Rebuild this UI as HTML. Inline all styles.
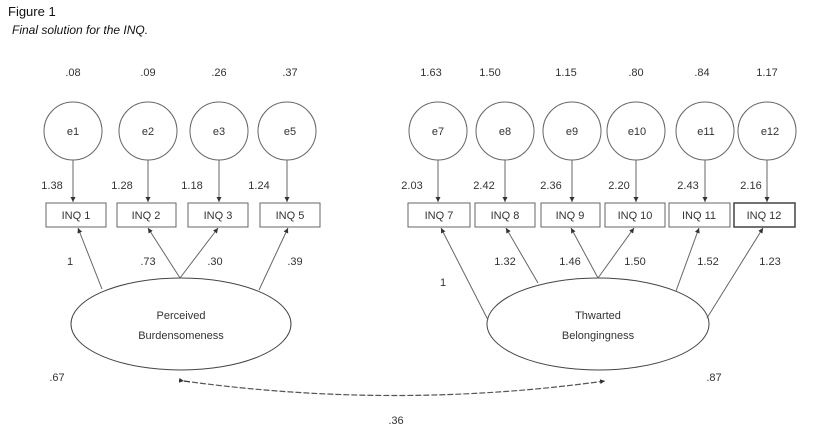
<!DOCTYPE html>
<html><head><meta charset="utf-8"><style>
body{margin:0;background:#fff;}
svg text{font-family:"Liberation Sans",sans-serif;fill:#333;}
</style></head><body>
<svg width="819" height="441" viewBox="0 0 819 441" xmlns="http://www.w3.org/2000/svg">
<defs><marker id="a" markerWidth="6" markerHeight="6" refX="5" refY="3" orient="auto" markerUnits="userSpaceOnUse"><path d="M0,0.5 L5,3 L0,5.5z" fill="#333"/></marker></defs>
<text x="8" y="16" font-size="13" style="fill:#111">Figure 1</text>
<text x="12" y="34" font-size="12" font-style="italic" style="fill:#111">Final solution for the INQ.</text>
<g stroke="#666" stroke-width="1" fill="none">
<circle cx="73" cy="131" r="29"/><circle cx="148" cy="131" r="29"/><circle cx="219" cy="131" r="29"/><circle cx="287" cy="131" r="29"/>
<circle cx="438" cy="131" r="29"/><circle cx="505" cy="131" r="29"/><circle cx="572" cy="131" r="29"/><circle cx="636" cy="131" r="29"/><circle cx="705" cy="131" r="29"/><circle cx="767" cy="131" r="29"/>
<rect x="46" y="203" width="60" height="24"/><rect x="117" y="203" width="59" height="24"/><rect x="188" y="203" width="60" height="24"/><rect x="260" y="203" width="60" height="24"/>
<rect x="408" y="203" width="62" height="24"/><rect x="475" y="203" width="60" height="24"/><rect x="541" y="203" width="59" height="24"/><rect x="605" y="203" width="60" height="24"/><rect x="669" y="203" width="61" height="24"/><rect x="734" y="203" width="61" height="24" stroke="#444" stroke-width="1.5"/>
<ellipse cx="181" cy="324" rx="110" ry="46" stroke="#444"/>
<ellipse cx="598" cy="324" rx="111" ry="46" stroke="#444"/>
</g>
<g stroke="#666" stroke-width="1" marker-end="url(#a)">
<line x1="73" y1="160" x2="73" y2="202"/><line x1="148" y1="160" x2="148" y2="202"/><line x1="219" y1="160" x2="219" y2="202"/><line x1="287" y1="160" x2="287" y2="202"/>
<line x1="438" y1="160" x2="438" y2="202"/><line x1="505" y1="160" x2="505" y2="202"/><line x1="572" y1="160" x2="572" y2="202"/><line x1="636" y1="160" x2="636" y2="202"/><line x1="705" y1="160" x2="705" y2="202"/><line x1="767" y1="160" x2="767" y2="202"/>
<line x1="102" y1="289" x2="78" y2="228"/><line x1="180" y1="278" x2="148" y2="228"/><line x1="180" y1="278" x2="218" y2="228"/><line x1="259" y1="290" x2="288" y2="228"/>
<line x1="488" y1="320" x2="441" y2="228"/><line x1="538" y1="283" x2="506" y2="228"/><line x1="598" y1="278" x2="571" y2="228"/><line x1="598" y1="278" x2="634" y2="228"/><line x1="676" y1="291" x2="699" y2="228"/><line x1="707" y1="318" x2="763" y2="228"/>
</g>
<path d="M184,381 Q395,410 605,381" fill="none" stroke="#555" stroke-width="1.2" stroke-dasharray="6,2" marker-start="url(#a)" marker-end="url(#a)"/>
<path d="M184,381 l6,1" stroke="#333"/>
<g font-size="11" text-anchor="middle">
<text x="73" y="76">.08</text><text x="148" y="76">.09</text><text x="219" y="76">.26</text><text x="290" y="76">.37</text>
<text x="431" y="76">1.63</text><text x="490" y="76">1.50</text><text x="566" y="76">1.15</text><text x="636" y="76">.80</text><text x="702" y="76">.84</text><text x="767" y="76">1.17</text>
<text x="73" y="135">e1</text><text x="148" y="135">e2</text><text x="219" y="135">e3</text><text x="290" y="135">e5</text>
<text x="438" y="135">e7</text><text x="505" y="135">e8</text><text x="572" y="135">e9</text><text x="637" y="135">e10</text><text x="706" y="135">e11</text><text x="770" y="135">e12</text>
<text x="52" y="189">1.38</text><text x="122" y="189">1.28</text><text x="192" y="189">1.18</text><text x="259" y="189">1.24</text>
<text x="412" y="189">2.03</text><text x="484" y="189">2.42</text><text x="551" y="189">2.36</text><text x="619" y="189">2.20</text><text x="688" y="189">2.43</text><text x="751" y="189">2.16</text>
<text x="76" y="219">INQ 1</text><text x="146" y="219">INQ 2</text><text x="218" y="219">INQ 3</text><text x="290" y="219">INQ 5</text>
<text x="439" y="219">INQ 7</text><text x="505" y="219">INQ 8</text><text x="570" y="219">INQ 9</text><text x="635" y="219">INQ 10</text><text x="699" y="219">INQ 11</text><text x="764" y="219">INQ 12</text>
<text x="70" y="265">1</text><text x="148" y="265">.73</text><text x="215" y="265">.30</text><text x="295" y="265">.39</text>
<text x="505" y="265">1.32</text><text x="570" y="265">1.46</text><text x="635" y="265">1.50</text><text x="708" y="265">1.52</text><text x="770" y="265">1.23</text>
<text x="443" y="286">1</text>
<text x="181" y="319">Perceived</text><text x="181" y="339">Burdensomeness</text>
<text x="598" y="319">Thwarted</text><text x="598" y="339">Belongingness</text>
<text x="57" y="381">.67</text><text x="714" y="381">.87</text><text x="396" y="424">.36</text>
</g>
</svg>
</body></html>
